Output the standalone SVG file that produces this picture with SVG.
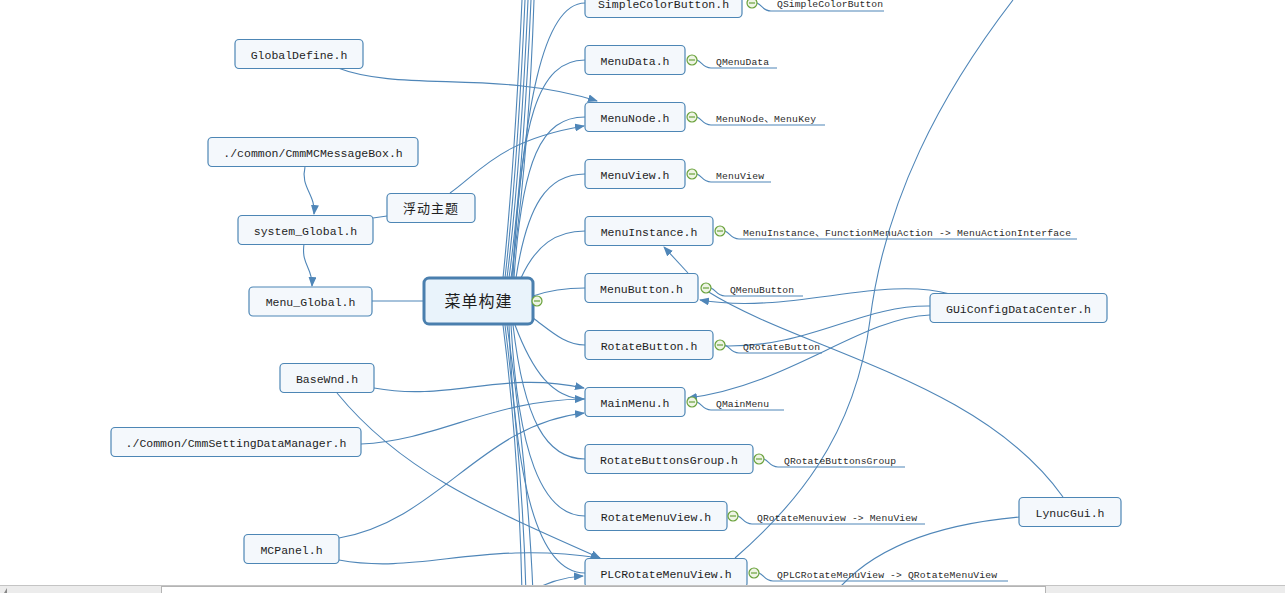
<svg xmlns="http://www.w3.org/2000/svg" width="1285" height="593" viewBox="0 0 1285 593">
<style>
.bg{fill:#ffffff}
.node rect{fill:#f4f8fc;stroke:#4d86b5;stroke-width:1.2}
.node text{font-family:"Liberation Mono",monospace;font-size:11.5px;fill:#1e1e1e;text-anchor:middle}
.cn{font-family:"Noto Sans CJK SC",sans-serif;fill:#1e1e1e;text-anchor:middle}
.lbl{font-family:"Liberation Mono","Noto Sans CJK SC",monospace;font-size:9.7px;fill:#2a2a2a}
.c path,.ul path{fill:none;stroke:#4f86b8;stroke-width:1.1}
.tog circle{fill:#eef4e4;stroke:#6aa23c;stroke-width:1.2}
.tog path{stroke:#6aa23c;stroke-width:1.2}
</style>
<defs>
<marker id="ar" markerWidth="10" markerHeight="8" refX="9" refY="4" orient="auto" markerUnits="userSpaceOnUse">
<path d="M0,0 L10,4 L0,8 z" fill="#4f86b8"/>
</marker>
</defs>
<rect class="bg" x="0" y="0" width="1285" height="593"/>

<g id="connectors" class="c">
<!-- bundle off-top -->
<path d="M503 278 C512 190 518 90 522 0"/>
<path d="M505 278 C515 190 521 90 525 0"/>
<path d="M507 278 C518 190 524 90 528 0"/>
<path d="M509 278 C521 190 527 90 531 0"/>
<path d="M511 278 C524 190 531 90 534 0"/>
<!-- children above -->
<path d="M512 278 C524 110 542 3 585 3"/>
<path d="M513 278 C520 120 538 60 585 60"/>
<path d="M514 278 C522 160 541 117 585 117"/>
<path d="M516 278 C527 205 547 174 585 174"/>
<path d="M521 278 C536 245 556 231 585 231"/>
<path d="M533 296 C550 290 565 288 585 288"/>
<!-- children below -->
<path d="M533 318 C552 332 565 345 585 345"/>
<path d="M515 325 C532 370 552 399 585 399"/>
<path d="M513 325 C524 420 546 459 585 459"/>
<path d="M511 325 C518 450 541 516 585 516"/>
<path d="M509 325 C515 480 537 573 585 573"/>
<!-- bundle off-bottom -->
<path d="M503 325 C515 420 520 500 522 593"/>
<path d="M505 325 C518 430 524 520 526 593"/>
<path d="M507 325 C522 430 530 520 533 593"/>
<path d="M528 593 C545 583 565 577 583 576" marker-end="url(#ar)"/>
<!-- left side -->
<path d="M372 301 H424"/>
<path d="M387 216 L373 218"/>
<path d="M305 167 C300 187 316 195 314 214" marker-end="url(#ar)"/>
<path d="M304 244 C301 265 313 268 312 286" marker-end="url(#ar)"/>
<path d="M338 68 C400 92 500 70 597 101" marker-end="url(#ar)"/>
<path d="M450 193 C480 172 500 140 584 126" marker-end="url(#ar)"/>
<path d="M374 388 C450 402 500 370 584 388" marker-end="url(#ar)"/>
<path d="M361 444 C440 440 490 400 584 399" marker-end="url(#ar)"/>
<path d="M339 538 C440 520 480 425 584 413" marker-end="url(#ar)"/>
<path d="M337 393 C400 470 480 505 600 558" marker-end="url(#ar)"/>
<path d="M339 560 C420 575 480 540 600 558" marker-end="url(#ar)"/>
<!-- right side relationships -->
<path d="M688 273 L664 247" marker-end="url(#ar)"/>
<path d="M950 294 C880 275 790 315 700 300" marker-end="url(#ar)"/>
<path d="M930 306 C860 305 810 348 723 346"/>
<path d="M930 315 C860 318 790 385 688 398" marker-end="url(#ar)"/>
<path d="M707 291 C800 350 980 380 1063 497"/>
<path d="M1019 517 C930 525 870 550 835 593"/>
<path d="M1013 0 C940 95 885 200 870 320 C855 440 790 510 735 558"/>
</g>

<g id="labels" class="ul">
<path d="M757 3 C762 5 763 11 771 11 H884"/>
<text class="lbl" x="777" y="7" textLength="106">QSimpleColorButton</text>
<path d="M697 60 C702 62 703 68 711 68 H777"/>
<text class="lbl" x="716" y="64.5" textLength="53">QMenuData</text>
<path d="M697 117 C702 119 703 125 711 125 H825"/>
<text class="lbl" x="716" y="121.5" textLength="100">MenuNode、MenuKey</text>
<path d="M697 174 C702 176 703 182 711 182 H771"/>
<text class="lbl" x="716" y="178.5" textLength="48">MenuView</text>
<path d="M725 231 C730 233 731 239 739 239 H1077"/>
<text class="lbl" x="743" y="235.5" textLength="328">MenuInstance、FunctionMenuAction -&gt; MenuActionInterface</text>
<path d="M711 288 C716 290 717 296 725 296 H803"/>
<text class="lbl" x="730" y="292.5" textLength="64">QMenuButton</text>
<path d="M725 345 C730 347 731 353 739 353 H822"/>
<text class="lbl" x="743" y="349.5" textLength="77">QRotateButton</text>
<path d="M697 402 C702 404 703 410 711 410 H784"/>
<text class="lbl" x="716" y="406.5" textLength="53">QMainMenu</text>
<path d="M764 459 C769 461 770 467 778 467 H905"/>
<text class="lbl" x="784" y="463.5" textLength="112">QRotateButtonsGroup</text>
<path d="M738 516 C743 518 744 524 752 524 H925"/>
<text class="lbl" x="757" y="520.5" textLength="160">QRotateMenuview -&gt; MenuView</text>
<path d="M759 573 C764 575 765 581 773 581 H1008"/>
<text class="lbl" x="777" y="577.5" textLength="220">QPLCRotateMenuView -&gt; QRotateMenuView</text>
</g>

<g id="n-central" class="node">
<rect x="424" y="278" width="109" height="46" rx="5" style="fill:#e9f3fb;stroke:#4a7fae;stroke-width:3"/>
<text class="cn" x="478.5" y="307" style="font-size:16px;letter-spacing:1px;font-family:'Noto Sans CJK SC',sans-serif">菜单构建</text>
</g>
<g id="n-SimpleColorButton" class="node"><rect x="585" y="-11.5" width="157" height="29" rx="4"/><text x="663.5" y="7.5">SimpleColorButton.h</text></g>
<g id="n-MenuData" class="node"><rect x="585" y="45.5" width="100" height="29" rx="4"/><text x="635" y="64.5">MenuData.h</text></g>
<g id="n-MenuNode" class="node"><rect x="585" y="102.5" width="100" height="29" rx="4"/><text x="635" y="121.5">MenuNode.h</text></g>
<g id="n-MenuView" class="node"><rect x="585" y="159.5" width="100" height="29" rx="4"/><text x="635" y="178.5">MenuView.h</text></g>
<g id="n-MenuInstance" class="node"><rect x="585" y="216.5" width="128" height="29" rx="4"/><text x="649" y="235.5">MenuInstance.h</text></g>
<g id="n-MenuButton" class="node"><rect x="585" y="273.5" width="113" height="29" rx="4"/><text x="641.5" y="292.5">MenuButton.h</text></g>
<g id="n-RotateButton" class="node"><rect x="585" y="330.5" width="128" height="29" rx="4"/><text x="649" y="349.5">RotateButton.h</text></g>
<g id="n-MainMenu" class="node"><rect x="585" y="387.5" width="100" height="29" rx="4"/><text x="635" y="406.5">MainMenu.h</text></g>
<g id="n-RotateButtonsGroup" class="node"><rect x="585" y="444.5" width="168" height="29" rx="4"/><text x="669" y="463.5">RotateButtonsGroup.h</text></g>
<g id="n-RotateMenuView" class="node"><rect x="585" y="501.5" width="142" height="29" rx="4"/><text x="656" y="520.5">RotateMenuView.h</text></g>
<g id="n-PLCRotateMenuView" class="node"><rect x="585" y="558.5" width="162" height="29" rx="4"/><text x="666" y="577.5">PLCRotateMenuView.h</text></g>

<g id="n-GlobalDefine" class="node"><rect x="235" y="39.5" width="128" height="29" rx="4"/><text x="299" y="58.5">GlobalDefine.h</text></g>
<g id="n-CmmMCMessageBox" class="node"><rect x="208" y="137.5" width="210" height="29" rx="4"/><text x="313" y="156.5">./common/CmmMCMessageBox.h</text></g>
<g id="n-system_Global" class="node"><rect x="238" y="215.5" width="135" height="29" rx="4"/><text x="305.5" y="234.5">system_Global.h</text></g>
<g id="n-float" class="node"><rect x="387" y="193.5" width="88" height="29" rx="4"/><text class="cn" x="431" y="213" style="font-size:13px;letter-spacing:1px;font-family:'Noto Sans CJK SC',sans-serif">浮动主题</text></g>
<g id="n-Menu_Global" class="node"><rect x="249" y="287" width="123" height="29" rx="4"/><text x="310.5" y="306">Menu_Global.h</text></g>
<g id="n-BaseWnd" class="node"><rect x="280" y="363.5" width="94" height="29" rx="4"/><text x="327" y="382.5">BaseWnd.h</text></g>
<g id="n-CmmSettingDataManager" class="node"><rect x="111" y="427.5" width="250" height="29" rx="4"/><text x="236" y="446.5">./Common/CmmSettingDataManager.h</text></g>
<g id="n-MCPanel" class="node"><rect x="244" y="534.5" width="95" height="29" rx="4"/><text x="291.5" y="553.5">MCPanel.h</text></g>
<g id="n-GUiConfigDataCenter" class="node"><rect x="930" y="293.5" width="177" height="29" rx="4"/><text x="1018.5" y="312.5">GUiConfigDataCenter.h</text></g>
<g id="n-LynucGui" class="node"><rect x="1019" y="497.5" width="102" height="29" rx="4"/><text x="1070" y="516.5">LynucGui.h</text></g>

<g id="toggles" class="tog">
<g><circle cx="537" cy="301" r="5"/><path d="M534 301 H540"/></g>
<g><circle cx="752" cy="3" r="5"/><path d="M749 3 H755"/></g>
<g><circle cx="692" cy="60" r="5"/><path d="M689 60 H695"/></g>
<g><circle cx="692" cy="117" r="5"/><path d="M689 117 H695"/></g>
<g><circle cx="692" cy="174" r="5"/><path d="M689 174 H695"/></g>
<g><circle cx="720" cy="231" r="5"/><path d="M717 231 H723"/></g>
<g><circle cx="706" cy="288" r="5"/><path d="M703 288 H709"/></g>
<g><circle cx="720" cy="345" r="5"/><path d="M717 345 H723"/></g>
<g><circle cx="692" cy="402" r="5"/><path d="M689 402 H695"/></g>
<g><circle cx="759" cy="459" r="5"/><path d="M756 459 H762"/></g>
<g><circle cx="733" cy="516" r="5"/><path d="M730 516 H736"/></g>
<g><circle cx="754" cy="573" r="5"/><path d="M751 573 H757"/></g>
</g>

<g id="scrollbar">
<rect x="0" y="585" width="1285" height="8" fill="#ececec"/>
<line x1="0" y1="585.5" x2="1285" y2="585.5" stroke="#c4c4c4"/>
<rect x="161.5" y="586.5" width="884" height="8" fill="#ffffff" stroke="#b4b4b4"/>
<path d="M4 593 L7 588 L7 593 z" fill="#888"/>
</g>
</svg>
